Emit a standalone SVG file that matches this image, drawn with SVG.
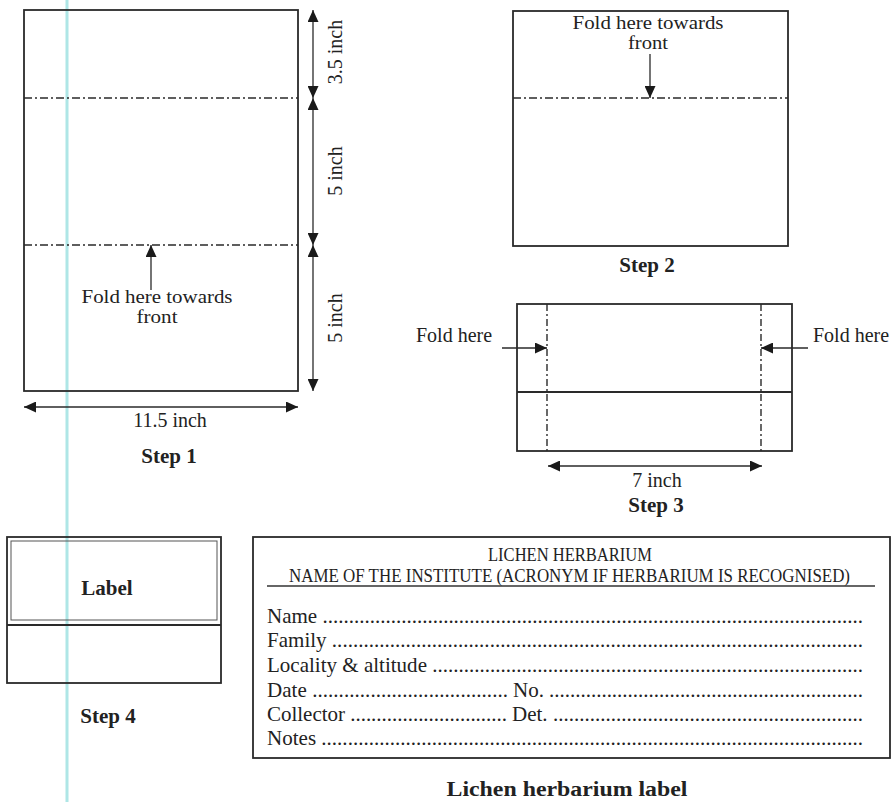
<svg xmlns="http://www.w3.org/2000/svg" width="896" height="802" viewBox="0 0 896 802">
<style>
text{font-family:"Liberation Serif","Times New Roman",serif;fill:#222}
.t{font-size:20px}
.f{font-size:18px}
.b{font-size:21px;font-weight:bold}
.c{text-anchor:middle}
.box{fill:none;stroke:#2a2a2a;stroke-width:1.8}
.thin{fill:none;stroke:#555;stroke-width:1}
.fold{fill:none;stroke:#2a2a2a;stroke-width:1.7;stroke-dasharray:8 3 2 3}
.vfold{fill:none;stroke:#2a2a2a;stroke-width:1.4;stroke-dasharray:7 3 2 3}
.arr{fill:none;stroke:#2a2a2a;stroke-width:1.3}
.lbl{font-size:21px}
</style>
<defs>
<marker id="ah" markerUnits="userSpaceOnUse" markerWidth="12" markerHeight="11" refX="12" refY="5.5" orient="auto-start-reverse">
<path d="M0,0 L12,5.5 L0,11 Z" fill="#1a1a1a"/>
</marker>
</defs>
<rect width="896" height="802" fill="#fff"/>
<line x1="67" y1="0" x2="67" y2="802" stroke="#aee6e6" stroke-width="3"/>

<g id="step1">
<rect class="box" x="24" y="10" width="274" height="381"/>
<line class="fold" x1="24" y1="98" x2="298" y2="98"/>
<line class="fold" x1="24" y1="245" x2="298" y2="245"/>
<text class="f c" x="157" y="303" textLength="151" lengthAdjust="spacingAndGlyphs">Fold here towards</text>
<text class="f c" x="157" y="323" textLength="41" lengthAdjust="spacingAndGlyphs">front</text>
<text class="t" transform="translate(342,52) rotate(-90)" text-anchor="middle">3.5 inch</text>
<text class="t" transform="translate(342,171) rotate(-90)" text-anchor="middle">5 inch</text>
<text class="t" transform="translate(342,318) rotate(-90)" text-anchor="middle">5 inch</text>
<text class="t c" x="170" y="427">11.5 inch</text>
<text class="b c" x="169" y="463">Step 1</text>
</g>

<g id="step2">
<rect class="box" x="513" y="11" width="275" height="235"/>
<line class="fold" x1="513" y1="98" x2="788" y2="98"/>
<text class="f c" x="648" y="29" textLength="151" lengthAdjust="spacingAndGlyphs">Fold here towards</text>
<text class="f c" x="648" y="49" textLength="40" lengthAdjust="spacingAndGlyphs">front</text>
<text class="b c" x="647" y="272">Step 2</text>
</g>

<g id="step3">
<rect class="box" x="517" y="304" width="275" height="147"/>
<line class="box" x1="517" y1="392" x2="792" y2="392"/>
<line class="vfold" x1="547" y1="304" x2="547" y2="451"/>
<line class="vfold" x1="761" y1="304" x2="761" y2="451"/>
<text class="t" x="416" y="342">Fold here</text>
<text class="t" x="813" y="342">Fold here</text>
<text class="t c" x="657" y="487">7 inch</text>
<text class="b c" x="656" y="512">Step 3</text>
</g>

<g id="step4">
<rect class="box" x="7" y="537" width="214" height="146"/>
<rect class="thin" x="11" y="541" width="206" height="79"/>
<line class="box" x1="7" y1="625" x2="221" y2="625"/>
<text class="b c" x="107" y="595">Label</text>
<text class="b c" x="108" y="723">Step 4</text>
</g>

<g id="herbarium-label">
<rect class="box" x="253" y="537" width="637" height="221" stroke="#3a3a3a"/>
<text x="570" y="561" font-size="18" text-anchor="middle" textLength="164" lengthAdjust="spacingAndGlyphs">LICHEN HERBARIUM</text>
<text x="289" y="582" font-size="18" textLength="561" lengthAdjust="spacingAndGlyphs">NAME OF THE INSTITUTE (ACRONYM IF HERBARIUM IS RECOGNISED)</text>
<line x1="267" y1="586" x2="875" y2="586" stroke="#333" stroke-width="1.3"/>
<text class="lbl" x="267" y="623" textLength="596" lengthAdjust="spacing">Name .......................................................................................................</text>
<text class="lbl" x="267" y="647" textLength="596" lengthAdjust="spacing">Family .....................................................................................................</text>
<text class="lbl" x="267" y="672" textLength="596" lengthAdjust="spacing">Locality &amp; altitude ..................................................................................</text>
<text class="lbl" x="267" y="697" textLength="241" lengthAdjust="spacing">Date .....................................</text>
<text class="lbl" x="513" y="697" textLength="350" lengthAdjust="spacing">No. ............................................................</text>
<text class="lbl" x="267" y="721" textLength="240" lengthAdjust="spacing">Collector ..............................</text>
<text class="lbl" x="512" y="721" textLength="351" lengthAdjust="spacing">Det. ...........................................................</text>
<text class="lbl" x="267" y="745" textLength="596" lengthAdjust="spacing">Notes .......................................................................................................</text>
<text x="567" y="796" font-size="20" font-weight="bold" text-anchor="middle" textLength="241" lengthAdjust="spacingAndGlyphs">Lichen herbarium label</text>
</g>

<g id="connectors">
<line class="arr" x1="313" y1="10" x2="313" y2="98" marker-start="url(#ah)" marker-end="url(#ah)"/>
<line class="arr" x1="313" y1="98" x2="313" y2="245" marker-start="url(#ah)" marker-end="url(#ah)"/>
<line class="arr" x1="313" y1="245" x2="313" y2="391" marker-start="url(#ah)" marker-end="url(#ah)"/>
<line class="arr" x1="24" y1="407" x2="298" y2="407" marker-start="url(#ah)" marker-end="url(#ah)"/>
<line class="arr" x1="151" y1="290" x2="151" y2="245" marker-end="url(#ah)"/>
<line class="arr" x1="650" y1="54" x2="650" y2="98" marker-end="url(#ah)"/>
<line class="arr" x1="502" y1="348" x2="547" y2="348" marker-end="url(#ah)"/>
<line class="arr" x1="808" y1="348" x2="761" y2="348" marker-end="url(#ah)"/>
<line class="arr" x1="548" y1="466" x2="762" y2="466" marker-start="url(#ah)" marker-end="url(#ah)"/>
</g>
</svg>
